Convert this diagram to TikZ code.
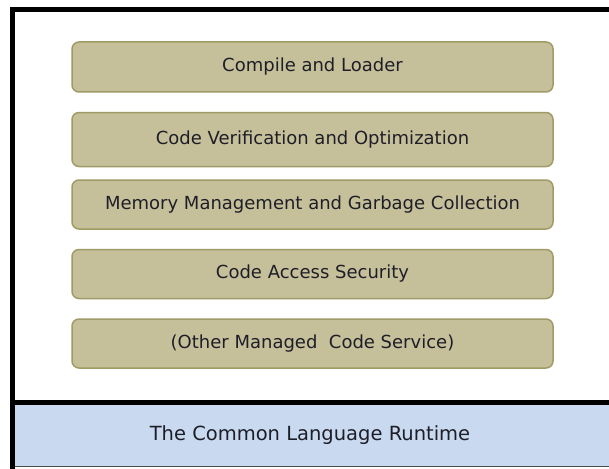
\documentclass[tikz,border=0pt]{standalone}
\usepackage{fontspec}
\setmainfont{DejaVu Sans}
\definecolor{khaki}{HTML}{C6C09A}
\definecolor{khakiedge}{HTML}{A09B66}
\definecolor{clrblue}{HTML}{C9DAF0}
\definecolor{txt}{HTML}{1E1E28}
\begin{document}
\begin{tikzpicture}[x=1pt,y=-1pt,
  svc/.style={draw=khakiedge, line width=1.5pt, fill=khaki, rounded corners=7pt,
    minimum width=481pt, minimum height=50pt, inner sep=0pt,
    font=\fontsize{18}{20}\selectfont, text=txt},
  frame/.style={line width=5pt, draw=black}]
\useasboundingbox (0,0) rectangle (609,468);
\begin{scope}
\clip (0,0) rectangle (609,468);
\fill[white] (0,0) rectangle (609,468);
\fill[clrblue] (12,402) rectangle (620,466);
\draw[line width=1pt, draw=black!70] (12,466.5) -- (620,466.5);
\draw[frame] (12,480) -- (12,9.5) -- (620,9.5);
\draw[frame] (12,402.5) -- (620,402.5);
\end{scope}
\node[svc, minimum height=50pt] (s1) at (312.5,67) {Compile and Loader};
\node[svc, minimum height=54pt] (s2) at (312.5,139.5) {Code Verification and Optimization};
\node[svc, minimum height=49pt] (s3) at (312.5,204.5) {Memory Management and Garbage Collection};
\node[svc, minimum height=49pt] (s4) at (312.5,274) {Code Access Security};
\node[svc, minimum height=49pt] (s5) at (312.5,343.5) {(Other Managed\ \ Code Service)};
\node[font=\fontsize{19.5}{22}\selectfont, text=txt] (clr) at (310,435) {The Common Language Runtime};
\end{tikzpicture}
\end{document}
